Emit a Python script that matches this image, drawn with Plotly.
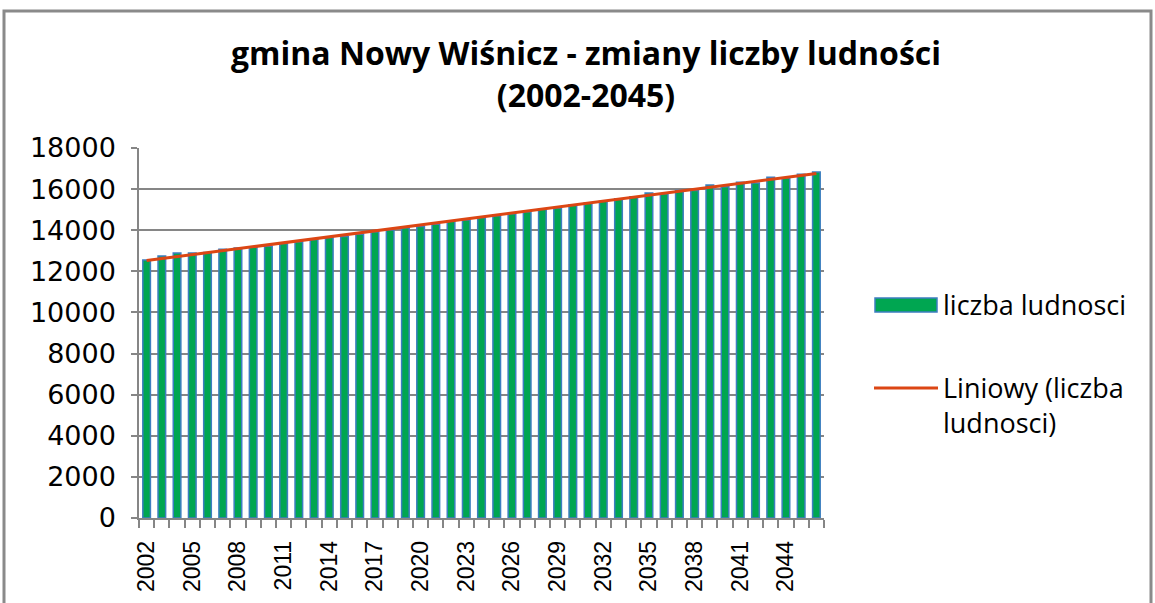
import numpy as np
import plotly.graph_objects as go

years = list(range(2002, 2047))
population = [12550, 12750, 12890, 12890, 12915, 13080, 13130, 13200, 13225, 13350,
              13435, 13550, 13650, 13700, 13810, 13920, 14010, 14115, 14180, 14290,
              14440, 14500, 14620, 14700, 14805, 14900, 15015, 15085, 15245, 15330,
              15410, 15535, 15625, 15805, 15770, 15930, 15935, 16195, 16110, 16330,
              16300, 16580, 16535, 16720, 16830]
y_ticks = list(range(0, 18001, 2000))
title_text = "gmina Nowy Wiśnicz - zmiany liczby ludności<br>(2002-2045)"
bar_name = "liczba ludnosci"
trend_name = "Liniowy (liczba ludnosci)"

# linear trend (Excel "Liniowy")
coef = np.polyfit(years, population, 1)
trend = [coef[0] * yr + coef[1] for yr in years]

W, H = 1155, 603
L, R, T, B = 139, 331, 148, 85
pw, ph = W - L - R, H - T - B

def px(x):
    return (x - L) / pw

def py(y):
    return (H - B - y) / ph

fig = go.Figure()
fig.add_trace(go.Bar(x=years, y=population, name=bar_name,
                     marker=dict(color="#00A651", line=dict(color="#3C7EC0", width=1.5)),
                     showlegend=False))
fig.add_trace(go.Scatter(x=[years[0], years[-1]], y=[trend[0], trend[-1]], mode="lines",
                         name=trend_name, line=dict(color="#DC4614", width=3),
                         showlegend=False))

shapes = [
    dict(type="rect", xref="paper", yref="paper", x0=px(4), x1=px(1151), y0=py(11), y1=py(612),
         line=dict(color="#8a8a8a", width=3), fillcolor="rgba(0,0,0,0)", layer="below"),
    dict(type="rect", xref="paper", yref="paper", x0=px(875), x1=px(937), y0=py(312), y1=py(298),
         line=dict(color="#3C7EC0", width=1.5), fillcolor="#00A651"),
    dict(type="line", xref="paper", yref="paper", x0=px(874), x1=px(938), y0=py(388), y1=py(388),
         line=dict(color="#DC4614", width=3)),
]
annotations = [
    dict(xref="paper", yref="paper", x=px(941), y=py(304), text=bar_name, showarrow=False,
         xanchor="left", yanchor="middle", font=dict(family="Open Sans", size=27, color="black")),
    dict(xref="paper", yref="paper", x=px(941), y=py(405), text="Liniowy (liczba<br>ludnosci)",
         showarrow=False, xanchor="left", yanchor="middle", align="left",
         font=dict(family="Open Sans", size=27, color="black")),
]

fig.update_layout(
    width=W, height=H,
    margin=dict(l=L, r=R, t=T, b=B, autoexpand=False),
    paper_bgcolor="white", plot_bgcolor="white",
    title=dict(text=title_text, x=586 / W, xanchor="center", xref="container",
               y=1 - 65 / H, yanchor="top", yref="container",
               font=dict(family="Open Sans", size=32, color="black", weight="bold")),
    bargap=0.5,
    shapes=shapes, annotations=annotations,
    showlegend=False,
)
fig.update_xaxes(range=[2001.5, 2046.5], tickmode="linear", tick0=2002, dtick=3,
                 tickangle=-90, ticks="", showgrid=False,
                 showline=True, linecolor="#868686", linewidth=1.5,
                 tickfont=dict(family="Liberation Sans", size=23, color="black"),
                 ticklabelstandoff=12,
                 minor=dict(ticks="outside", tick0=2001.5, dtick=1, ticklen=8,
                            tickcolor="#868686", tickwidth=1.5, showgrid=False))
fig.update_yaxes(range=[0, 18000], tickvals=y_ticks, tickformat="d", ticks="outside", ticklen=6,
                 tickcolor="#868686", tickwidth=1.5,
                 showgrid=True, gridcolor="#868686", gridwidth=1.6,
                 showline=True, linecolor="#868686", linewidth=1.5, zeroline=False,
                 tickfont=dict(family="DejaVu Sans", size=27, color="black"),
                 ticklabelstandoff=10)

fig.write_html("out.html", post_script="document.body.style.margin='0';",
               config={"displayModeBar": False})
